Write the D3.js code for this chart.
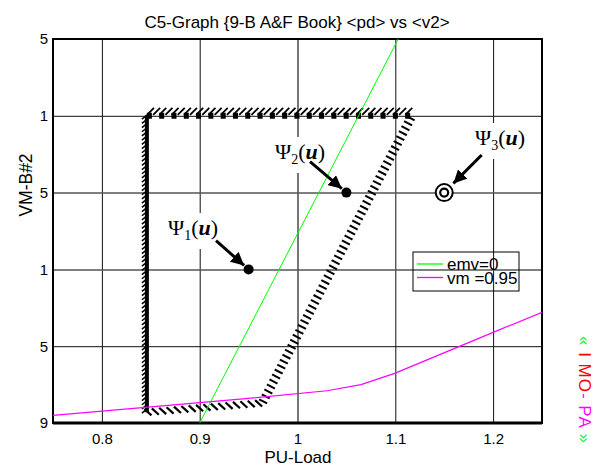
<!DOCTYPE html>
<html>
<head>
<meta charset="utf-8">
<style>
body { margin: 0; background: #fff; }
svg text { font-family: "Liberation Sans", Arial, sans-serif; }
.axis .domain { display: none; }
.psi text { font-family: "Liberation Serif", "Times New Roman", serif; }
</style>
</head>
<body>
<svg width="594" height="467" id="chart"></svg>
<script src="https://d3js.org/d3.v7.min.js"></script>
<script>
// axes
var xDomain = [0.75, 1.25],
    yDomain = [0.9, 1.15];
var xTicks = [0.8, 0.9, 1.0, 1.1, 1.2],
    xTickLabels = ["0.8", "0.9", "1", "1.1", "1.2"];
var yTicks = [0.9, 0.95, 1.0, 1.05, 1.1, 1.15],
    yTickLabels = ["9", "5", "1", "5", "1", "5"];

// series
var emvLine = [[0.9, 0.9], [1.103, 1.15]];
var vmLine = [[0.75, 0.905], [0.85, 0.9105], [0.95, 0.916], [1.03, 0.921], [1.065, 0.925],
              [1.1, 0.9325], [1.2, 0.959], [1.25, 0.972]];

// hatched region corners: bottom-left, top-left, top-right, bottom-right
var region = [[0.846, 0.907], [0.846, 1.1], [1.117, 1.1], [0.964, 0.913]];

// operating points
var points = [
  {name: "1", x: 0.95, y: 1.0, tail: [0.9167, 1.0187], label: [0.8676, 1.0224], ring: false},
  {name: "2", x: 1.05, y: 1.05, tail: [1.0128, 1.0701], label: [0.977, 1.0719], ring: false},
  {name: "3", x: 1.15, y: 1.05, tail: [1.1883, 1.0745], label: [1.1815, 1.081], ring: true}
];

var legendNames = ["emv=0", "vm =0.95"],
    legendColors = ["#00ff00", "#ff00ff"];

var svg = d3.select("#chart"),
    margin = {top: 39, right: 52, bottom: 44, left: 53},
    width = +svg.attr("width") - margin.left - margin.right,
    height = +svg.attr("height") - margin.top - margin.bottom,
    g = svg.append("g").attr("transform", "translate(" + margin.left + "," + margin.top + ")");

var x = d3.scaleLinear().domain(xDomain).range([0, width]);
var y = d3.scaleLinear().domain(yDomain).range([height, 0]);

// grid + tick labels
var xAxis = g.append("g")
    .attr("class", "axis")
    .attr("transform", "translate(0," + height + ")")
    .call(d3.axisBottom(x).tickValues(xTicks)
      .tickFormat(function(d, i) { return xTickLabels[i]; })
      .tickSize(-height).tickPadding(10));
xAxis.selectAll("line")
    .attr("stroke", function(d) { return d === 1.0 ? "#777" : "#111"; })
    .attr("stroke-width", function(d) { return d === 1.0 ? 2 : 1; });
xAxis.selectAll("text").attr("font-size", 15).attr("fill", "#000");

var yAxis = g.append("g")
    .attr("class", "axis")
    .call(d3.axisLeft(y).tickValues(yTicks)
      .tickFormat(function(d, i) { return yTickLabels[i]; })
      .tickSize(-width).tickPadding(5));
yAxis.selectAll("line")
    .attr("stroke", function(d) { return (d === 1.0 || d === 1.05) ? "#555" : "#111"; })
    .attr("stroke-width", function(d) { return (d === 1.0 || d === 1.05) ? 1.5 : 1; });
yAxis.selectAll("text").attr("font-size", 15).attr("fill", "#000");

// white boxes behind the labels hide the grid
g.append("g").selectAll("rect").data(points).enter().append("rect")
    .attr("x", function(p) { return x(p.label[0]) - 3; })
    .attr("y", function(p) { return y(p.label[1]) - 22; })
    .attr("width", 56).attr("height", 36)
    .attr("fill", "#fff");

// frame
g.append("rect")
    .attr("width", width).attr("height", height)
    .attr("fill", "none").attr("stroke", "#000").attr("stroke-width", 2);
g.append("line")
    .attr("x1", 0).attr("x2", width).attr("y1", height).attr("y2", height)
    .attr("stroke", "#000").attr("stroke-width", 3);

// clip for data lines
svg.append("defs").append("clipPath").attr("id", "plotclip")
  .append("rect").attr("width", width).attr("height", height);

var line = d3.line().x(function(d) { return x(d[0]); }).y(function(d) { return y(d[1]); });

// hatched boundary
var hb = g.append("g").attr("clip-path", "url(#plotclip)");
function px(p) { return [x(p[0]), y(p[1])]; }
function hatch(a, b, step, f, w) {
  var p0 = px(a), p1 = px(b),
      dx = p1[0] - p0[0], dy = p1[1] - p0[1],
      len = Math.sqrt(dx * dx + dy * dy),
      ux = dx / len, uy = dy / len, segs = [];
  for (var t = step / 2; t < len; t += step) {
    segs.push(f(p0[0] + ux * t, p0[1] + uy * t, ux, uy));
  }
  hb.selectAll(null).data(segs).enter().append("line")
      .attr("x1", function(s) { return s[0]; }).attr("y1", function(s) { return s[1]; })
      .attr("x2", function(s) { return s[2]; }).attr("y2", function(s) { return s[3]; })
      .attr("stroke", "#000").attr("stroke-width", w);
}
// left edge: solid line with small marks
hb.append("path").attr("d", line([region[0], region[1]]))
    .attr("stroke", "#000").attr("stroke-width", 4).attr("fill", "none");
hatch(region[0], region[1], 4.2, function(px0, py0) {
  return [px0, py0 - 1, px0 - 5, py0 + 3];
}, 1.5);
// top edge: thick dashes with slashes
hb.append("path").attr("d", line([region[1], region[2]]))
    .attr("stroke", "#000").attr("stroke-width", 6).attr("fill", "none")
    .attr("stroke-dasharray", "5,7.3");
hatch(region[1], region[2], 6.15, function(px0, py0) {
  return [px0 - 3, py0 - 1, px0 + 4, py0 - 8];
}, 1.8);
// slanted edge: perpendicular marks
hatch(region[2], region[3], 5.6, function(px0, py0, ux, uy) {
  var nx = -uy, ny = ux;
  return [px0 - nx * 4.5, py0 - ny * 4.5, px0 + nx * 4.5, py0 + ny * 4.5];
}, 2);
// bottom edge: back-slashes
hatch(region[3], region[0], 7.4, function(px0, py0) {
  return [px0 - 3.5, py0 - 3.2, px0 + 3.5, py0 + 3.2];
}, 2.2);

// data lines
var lines = g.append("g").attr("clip-path", "url(#plotclip)");
lines.append("path").datum(emvLine).attr("d", line)
    .attr("fill", "none").attr("stroke", legendColors[0]).attr("stroke-width", 1);
lines.append("path").datum(vmLine).attr("d", line)
    .attr("fill", "none").attr("stroke", legendColors[1]).attr("stroke-width", 1.2);

// annotations
svg.append("defs").append("marker")
    .attr("id", "head").attr("viewBox", "0 0 10 10")
    .attr("refX", 10).attr("refY", 5)
    .attr("markerWidth", 4.4).attr("markerHeight", 4.4)
    .attr("markerUnits", "strokeWidth")
    .attr("orient", "auto")
  .append("path").attr("d", "M0,0 L10,5 L0,10 z").attr("fill", "#000");

var ann = g.append("g").attr("class", "psi");
points.forEach(function(p) {
  var cx = x(p.x), cy = y(p.y),
      tx = x(p.tail[0]), ty = y(p.tail[1]),
      dx = cx - tx, dy = cy - ty,
      d = Math.sqrt(dx * dx + dy * dy),
      gap = p.ring ? 13 : 6;
  ann.append("line")
      .attr("x1", tx).attr("y1", ty)
      .attr("x2", cx - dx / d * gap).attr("y2", cy - dy / d * gap)
      .attr("stroke", "#000").attr("stroke-width", 3)
      .attr("marker-end", "url(#head)");
  if (p.ring) {
    ann.append("circle").attr("cx", cx).attr("cy", cy).attr("r", 8.5)
        .attr("fill", "#fff").attr("stroke", "#000").attr("stroke-width", 2);
    ann.append("circle").attr("cx", cx).attr("cy", cy).attr("r", 4)
        .attr("fill", "#fff").attr("stroke", "#000").attr("stroke-width", 2.2);
  } else {
    ann.append("circle").attr("cx", cx).attr("cy", cy).attr("r", 5).attr("fill", "#000");
  }
  var t = ann.append("text")
      .attr("x", x(p.label[0])).attr("y", y(p.label[1]))
      .attr("font-size", 22).attr("fill", "#000");
  t.append("tspan").text("\u03A8");
  t.append("tspan").attr("font-size", 14).attr("dy", 5).text(p.name);
  t.append("tspan").attr("dy", -5).text("(");
  t.append("tspan").attr("font-weight", "bold").attr("font-style", "italic").text("u");
  t.append("tspan").text(")");
});

// legend
var lg = g.append("g").attr("transform", "translate(" + (width - 129) + "," + 213 + ")");
lg.append("rect").attr("width", 106).attr("height", 39)
    .attr("fill", "none").attr("stroke", "#000").attr("stroke-width", 1);
var lgItems = lg.selectAll("g.item").data(legendNames).enter().append("g")
    .attr("class", "item")
    .attr("transform", function(d, i) { return "translate(0," + (12 + i * 13.5) + ")"; });
lgItems.append("line").attr("x1", 4).attr("x2", 30)
    .attr("stroke", function(d) { return legendColors[legendNames.indexOf(d)]; })
    .attr("stroke-width", 1.3);
lgItems.append("text").attr("x", 34).attr("y", 6)
    .attr("font-size", 17).attr("fill", "#000").text(function(d) { return d; });

// titles
svg.append("text").attr("x", 297).attr("y", 28)
    .attr("text-anchor", "middle").attr("font-size", 17)
    .text("C5-Graph {9-B A&F Book} <pd> vs <v2>");
svg.append("text").attr("x", 298).attr("y", 463)
    .attr("text-anchor", "middle").attr("font-size", 17).text("PU-Load");
svg.append("text").attr("transform", "translate(32,185) rotate(-90)")
    .attr("text-anchor", "middle").attr("font-size", 17.5).text("VM-B#2");

// side mark
var side = svg.append("text").attr("transform", "translate(579,390) rotate(90)")
    .attr("text-anchor", "middle").attr("font-size", 17).attr("letter-spacing", 1);
side.append("tspan").attr("fill", "#22ee22").text("\u00AB ");
side.append("tspan").attr("fill", "#ff0000").text("I MO");
side.append("tspan").attr("fill", "#ff00ff").text("- PA");
side.append("tspan").attr("fill", "#22ee22").text(" \u00BB");
</script>
</body>
</html>
